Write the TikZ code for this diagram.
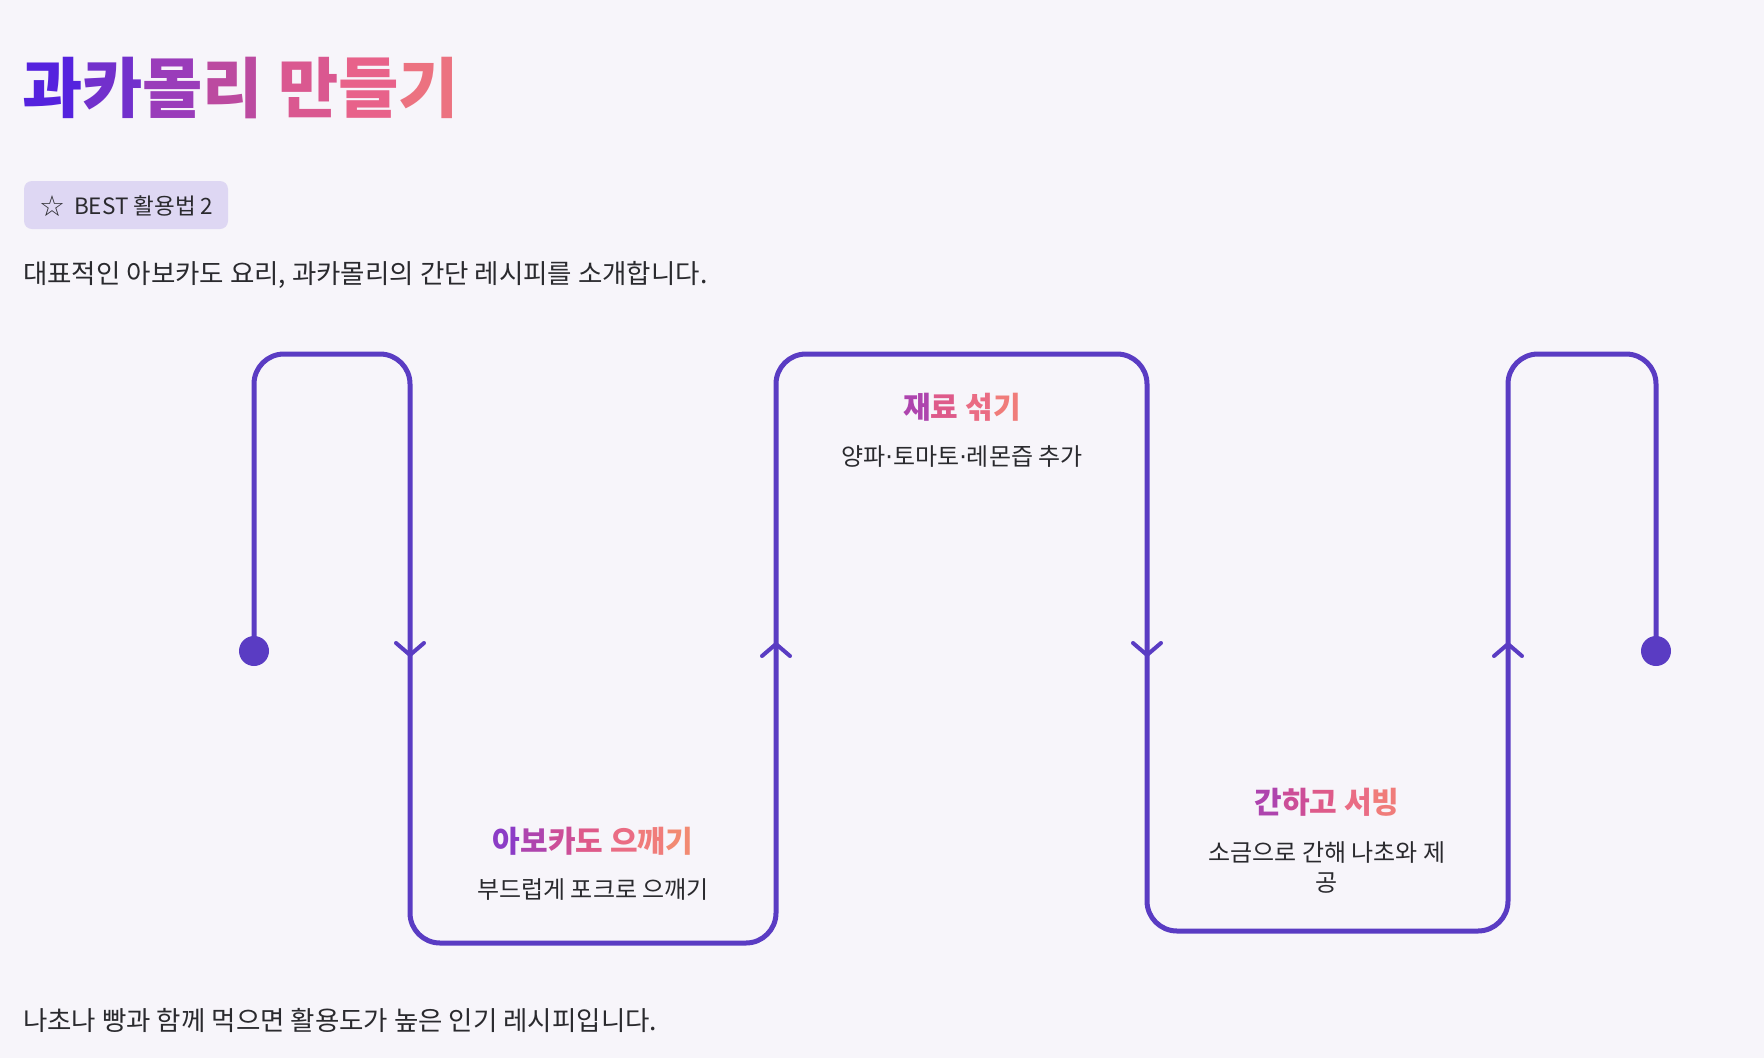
\documentclass[tikz,border=0pt]{standalone}
\usepackage{fontspec}
\usetikzlibrary{calc}
\setmainfont{Noto Sans CJK KR}
\newfontfamily\symfont{DejaVu Sans}
\definecolor{bgc}{HTML}{F7F5FA}
\definecolor{linec}{HTML}{5A3CC3}
\definecolor{badgec}{HTML}{DED7F3}
\definecolor{txtc}{HTML}{2A2A2E}
% title gradient
\definecolor{ta}{HTML}{5522DE}
\definecolor{tb}{HTML}{7230CC}
\definecolor{tc}{HTML}{9A3CBA}
\definecolor{td}{HTML}{BC4AA0}
\definecolor{te}{HTML}{DA5890}
\definecolor{tf}{HTML}{E8628A}
\definecolor{tg}{HTML}{EC7280}
% step title gradient
\definecolor{sa}{HTML}{8C3CC6}
\definecolor{sb}{HTML}{AE44AE}
\definecolor{sc}{HTML}{CC4E98}
\definecolor{sd}{HTML}{DE5A8A}
\definecolor{se}{HTML}{EA6C84}
\definecolor{sf}{HTML}{F07C7A}
\definecolor{sg}{HTML}{F28A72}
\newcommand{\mdot}{{\symfont ·}}
\begin{document}
\begin{tikzpicture}[x=1pt,y=-1pt,
  pathline/.style={draw=linec,line width=5pt,rounded corners=30pt,line join=round},
  chev/.style={draw=linec,line width=4pt,line cap=round,line join=miter},
  steptitle/.style={font=\fontsize{30}{34}\selectfont\bfseries,inner sep=0pt},
  stepdesc/.style={font=\fontsize{24}{30}\selectfont,text=txtc,inner sep=0pt,align=center},
  bodytext/.style={font=\fontsize{26.5}{30}\selectfont,text=txtc,inner sep=0pt,anchor=west}]
\fill[bgc] (0,0) rectangle (1764,1058);
\useasboundingbox (0,0) rectangle (1764,1058);

% title
\node[anchor=base west,inner sep=0pt,font=\fontsize{65.5}{72}\selectfont\bfseries] (title) at (22,112)
  {\textcolor{ta}{과}\textcolor{tb}{카}\textcolor{tc}{몰}\textcolor{td}{리} \textcolor{te}{만}\textcolor{tf}{들}\textcolor{tg}{기}};

% badge
\path[fill=badgec,rounded corners=8pt] (24,181) rectangle (228,229);
\node[inner sep=0pt,font=\symfont\fontsize{29}{29}\selectfont,text=txtc] (star) at (52,206) {☆};
\node[inner sep=0pt,anchor=west,font=\fontsize{22.5}{26}\selectfont,text=txtc] (badge) at (74,206) {BEST 활용법 2};

% intro and footer
\node[bodytext] (intro) at (23,275) {대표적인 아보카도 요리, 과카몰리의 간단 레시피를 소개합니다.};
\node[bodytext] (footer) at (23,1020) {나초나 빵과 함께 먹으면 활용도가 높은 인기 레시피입니다.};

% path coordinates
\coordinate (s) at (254,651);
\coordinate (p1) at (254,354);
\coordinate (p2) at (410,354);
\coordinate (p3) at (410,943);
\coordinate (p4) at (776,943);
\coordinate (p5) at (776,354);
\coordinate (p6) at (1147,354);
\coordinate (p7) at (1147,931);
\coordinate (p8) at (1508,931);
\coordinate (p9) at (1508,354);
\coordinate (p10) at (1656,354);
\coordinate (e) at (1656,651);

\draw[pathline] (s) -- (p1) -- (p2) -- (p3) -- (p4) -- (p5) -- (p6) -- (p7) -- (p8) -- (p9) -- (p10) -- (e);
\fill[linec] (s) circle (15);
\fill[linec] (e) circle (15);

% chevrons
\coordinate (a1) at (410,655);
\coordinate (a2) at (776,644);
\coordinate (a3) at (1147,655);
\coordinate (a4) at (1508,644);
\draw[chev] ($(a1)+(-14,-12)$) -- (a1) -- ($(a1)+(14,-12)$);
\draw[chev] ($(a2)+(-14,12)$) -- (a2) -- ($(a2)+(14,12)$);
\draw[chev] ($(a3)+(-14,-12)$) -- (a3) -- ($(a3)+(14,-12)$);
\draw[chev] ($(a4)+(-14,12)$) -- (a4) -- ($(a4)+(14,12)$);

% step texts
\node[steptitle] (t1) at (593,841) {\textcolor{sa}{아}\textcolor{sb}{보}\textcolor{sc}{카}\textcolor{sd}{도} \textcolor{se}{으}\textcolor{sf}{깨}\textcolor{sg}{기}};
\node[stepdesc] (d1) at (593,889) {부드럽게 포크로 으깨기};

\node[steptitle] (t2) at (962,407) {\textcolor{sb}{재}\textcolor{sd}{료} \textcolor{se}{섞}\textcolor{sf}{기}};
\node[stepdesc] (d2) at (962,457) {양파\mdot 토마토\mdot 레몬즙 추가};

\node[steptitle] (t3) at (1327,802) {\textcolor{sb}{간}\textcolor{sc}{하}\textcolor{sd}{고} \textcolor{se}{서}\textcolor{sf}{빙}};
\node[stepdesc] (d3) at (1327,867) {소금으로 간해 나초와 제\\공};
\end{tikzpicture}
\end{document}
